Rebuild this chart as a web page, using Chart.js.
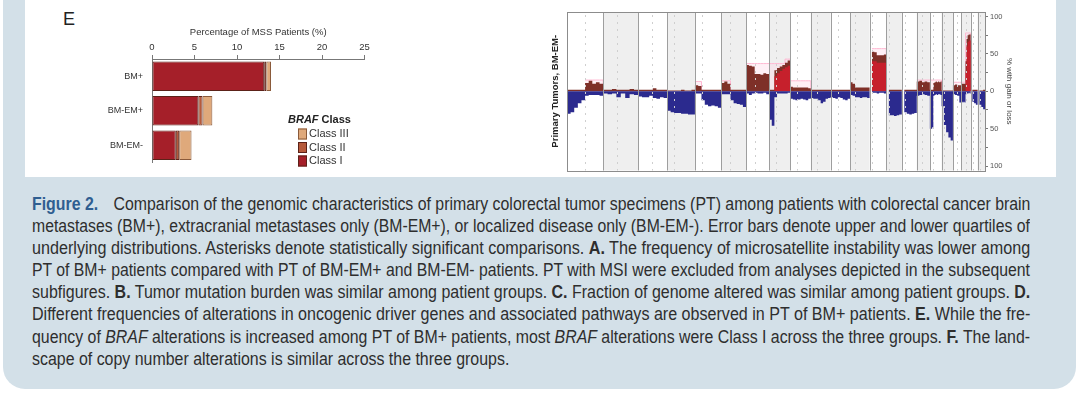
<!DOCTYPE html>
<html>
<head>
<meta charset="utf-8">
<script src="https://cdn.jsdelivr.net/npm/chart.js@4.4.1/dist/chart.umd.min.js"></script>
<style>
html, body { margin: 0; padding: 0; background: #fff; width: 1080px; height: 394px; overflow: hidden; }
#box { position: absolute; left: 3px; top: -30px; width: 1073px; height: 419px; background: #d3e0e8; border-radius: 0 0 22px 22px; }
#panel { position: absolute; left: 25px; top: 0; width: 1031px; height: 177px; background: #fff; }
#lblE { position: absolute; left: 63px; top: 9px; font: 18px "Liberation Sans", Arial, sans-serif; color: #222; }
#cBar { position: absolute; left: 0; top: 0; }
#cCn { position: absolute; left: 520px; top: 0; }
#cap { position: absolute; left: 32px; top: 193px; width: 998px; font: 17.5px "Liberation Sans", Arial, sans-serif; color: #2e2e2e; line-height: 22.1px; }
#cap div { white-space: nowrap; width: max-content; transform-origin: 0 0; }
.fig { color: #2f5e91; font-weight: bold; margin-right: 17px; }
</style>
</head>
<body>
<div id="box"></div>
<div id="panel"></div>
<div id="lblE">E</div>
<canvas id="cBar" width="420" height="177"></canvas>
<canvas id="cCn" width="536" height="177"></canvas>
<div id="cap">
<div><span class="fig">Figure 2.</span>Comparison of the genomic characteristics of primary colorectal tumor specimens (PT) among patients with colorectal cancer brain</div>
<div>metastases (BM+), extracranial metastases only (BM-EM+), or localized disease only (BM-EM-). Error bars denote upper and lower quartiles of</div>
<div>underlying distributions. Asterisks denote statistically significant comparisons. <b>A.</b> The frequency of microsatellite instability was lower among</div>
<div>PT of BM+ patients compared with PT of BM-EM+ and BM-EM- patients. PT with MSI were excluded from analyses depicted in the subsequent</div>
<div>subfigures. <b>B.</b> Tumor mutation burden was similar among patient groups. <b>C.</b> Fraction of genome altered was similar among patient groups. <b>D.</b></div>
<div>Different frequencies of alterations in oncogenic driver genes and associated pathways are observed in PT of BM+ patients. <b>E.</b> While the fre-</div>
<div>quency of <i>BRAF</i> alterations is increased among PT of BM+ patients, most <i>BRAF</i> alterations were Class I across the three groups. <b>F.</b> The land-</div>
<div class="last">scape of copy number alterations is similar across the three groups.</div>
</div>
<script>
// panel E: BRAF class by patient group (% of MSS patients)
var groups = ['BM+', 'BM-EM+', 'BM-EM-'];
var brafClassI = [13.2, 5.45, 2.8];
var brafClassII = [0.25, 0.5, 0.4];
var brafClassIII = [0.55, 1.15, 1.45];

// copy number panel, primary tumors BM-EM-
var chromosomes = ['1','2','3','4','5','6','7','8','9','10','11','12','13','14','15','16','17','18','19','20','21','22'];
var chromLengthMb = [249, 243, 198, 191, 181, 171, 159, 146, 141, 136, 135, 134, 115, 107, 103, 90, 81, 78, 59, 63, 48, 51];
var centromereMb = [125, 93, 91, 50, 48, 60, 60, 45, 49, 40, 53, 35, 18, 17, 19, 36, 24, 18, 27, 28, 13, 15];
var gainLossTicks = [-100, -75, -50, -25, 0, 25, 50, 75, 100];

// % with gain, equal bins along each chromosome
var gainPct = [
  [2, 2, 2, 2, 2, 11, 14, 10, 12, 10],
  [2, 2, 3, 2, 2, 2, 3, 2],
  [2, 2, 2, 2, 4, 2, 2, 2],
  [1, 1, 1, 1, 2, 1, 1, 2],
  [8, 7, 2, 2, 2, 2, 2, 2],
  [11, 13, 10, 2, 2, 2, 2, 2],
  [35, 34, 33, 23, 23, 22, 24, 23],
  [2, 2, 28, 31, 33, 35, 38, 41],
  [6, 5, 5, 5, 5, 5, 5, 4],
  [2, 2, 2, 2, 2, 2, 2, 2],
  [2, 2, 2, 2, 2, 2, 2, 2],
  [12, 10, 5, 5, 5, 5, 5, 5],
  [0, 53, 52, 48, 48, 48, 49],
  [0, 2, 2, 2, 2, 2],
  [0, 2, 2, 2, 2, 2],
  [13, 14, 12, 13, 12],
  [2, 2, 2, 11, 12, 13, 12, 13, 12, 13],
  [1, 1, 1, 1, 1],
  [8, 9, 8, 8],
  [10, 10, 10, 10, 40, 70, 75, 76, 76],
  [0, 2, 2, 2],
  [0, 1, 1, 2]
];
// % with high-level gain (bright red)
var highGainPct = [
  [0, 0, 0, 0, 0, 0, 0, 0, 0, 0],
  [0, 0, 0, 0, 0, 0, 0, 0],
  [0, 0, 0, 0, 0, 0, 0, 0],
  [0, 0, 0, 0, 0, 0, 0, 0],
  [0, 0, 0, 0, 0, 0, 0, 0],
  [0, 0, 0, 0, 0, 0, 0, 0],
  [0, 0, 0, 0, 0, 0, 0, 0],
  [0, 0, 20, 24, 27, 30, 32, 34],
  [0, 0, 0, 0, 0, 0, 0, 0],
  [0, 0, 0, 0, 0, 0, 0, 0],
  [0, 0, 0, 0, 0, 0, 0, 0],
  [0, 0, 0, 0, 0, 0, 0, 0],
  [0, 40, 40, 38, 38, 38, 38],
  [0, 0, 0, 0, 0, 0],
  [0, 0, 0, 0, 0, 0],
  [0, 0, 0, 0, 0],
  [0, 0, 0, 0, 0, 0, 0, 0, 0, 0],
  [0, 0, 0, 0, 0],
  [0, 0, 0, 0],
  [0, 0, 0, 0, 25, 60, 66, 68, 68],
  [0, 0, 0, 0],
  [0, 0, 0, 0]
];
// % with loss (negative)
var lossPct = [
  [-30, -28, -22, -16, -12, -6, -5, -5, -5, -6],
  [-3, -4, -3, -8, -3, -9, -4, -5],
  [-7, -8, -8, -6, -9, -10, -8, -9],
  [-26, -28, -29, -29, -30, -30, -31, -31],
  [-3, -3, -12, -18, -20, -19, -20, -22],
  [-4, -4, -4, -12, -16, -17, -18, -21],
  [-3, -5, -3, -2, -3, -3, -2, -4],
  [-38, -46, -8, -3, -3, -3, -3, -2],
  [-10, -11, -12, -11, -10, -11, -12, -10],
  [-9, -10, -10, -12, -16, -14, -10, -9],
  [-8, -9, -10, -8, -9, -11, -12, -10],
  [-5, -6, -8, -8, -9, -8, -8, -9],
  [0, -2, -2, -3, -2, -2, -3],
  [0, -32, -32, -33, -32, -31],
  [0, -28, -30, -31, -30, -29],
  [-6, -5, -4, -5, -6],
  [-50, -50, -48, -6, -5, -4, -5, -4, -4, -5],
  [-20, -45, -55, -62, -66],
  [-4, -5, -6, -15],
  [-14, -15, -14, -15, -4, -3, -3, -2, -3],
  [0, -14, -16, -18],
  [0, -18, -21, -24]
];
// highlighted (pink) gain regions
var highlightPct = [
  [0, 0, 0, 0, 0, 15, 15, 15, 15, 15],
  [0, 0, 0, 0, 0, 0, 0, 0],
  [0, 0, 0, 0, 0, 0, 0, 0],
  [0, 0, 0, 0, 0, 0, 0, 0],
  [13, 13, 0, 0, 0, 0, 0, 0],
  [14, 14, 14, 0, 0, 0, 0, 0],
  [37, 37, 37, 37, 37, 37, 37, 37],
  [37, 37, 37, 37, 37, 37, 43, 43],
  [14, 14, 14, 14, 14, 14, 14, 14],
  [0, 0, 0, 0, 0, 0, 0, 0],
  [0, 0, 0, 0, 0, 0, 0, 0],
  [0, 0, 0, 0, 0, 0, 0, 0],
  [0, 57, 57, 57, 57, 57, 57],
  [0, 0, 0, 0, 0, 0],
  [0, 0, 0, 0, 0, 0],
  [15, 15, 15, 15, 15],
  [15, 15, 15, 15, 15, 15, 15, 15, 15, 15],
  [0, 0, 0, 0, 0],
  [12, 12, 12, 12],
  [12, 12, 12, 12, 78, 78, 78, 78, 78],
  [0, 0, 0, 0],
  [0, 0, 0, 0]
];

Chart.defaults.font.family = '"Liberation Sans", Arial, sans-serif';
Chart.defaults.color = '#333';

/** legend with mixed italic title, drawn inside the chart area */
var brafLegend = {
  id: 'brafLegend',
  afterDraw: function(chart) {
    var ctx = chart.ctx;
    var x0 = chart.scales.x.getPixelForValue(16);
    var y0 = chart.chartArea.top + 61;
    ctx.save();
    ctx.textBaseline = 'middle';
    ctx.fillStyle = '#222';
    ctx.font = 'italic bold 11px "Liberation Sans", Arial, sans-serif';
    ctx.fillText('BRAF', x0, y0);
    var w = ctx.measureText('BRAF').width;
    ctx.font = 'bold 11px "Liberation Sans", Arial, sans-serif';
    ctx.fillText(' Class', x0 + w, y0);
    var ds = chart.data.datasets.slice().reverse();
    ctx.font = '11px "Liberation Sans", Arial, sans-serif';
    ds.forEach(function(d, i) {
      var y = y0 + 14 + i * 13.5;
      ctx.fillStyle = d.backgroundColor;
      ctx.fillRect(x0 + 10, y - 5.5, 9, 11);
      ctx.strokeStyle = d.borderColor;
      ctx.lineWidth = 1;
      ctx.strokeRect(x0 + 10.5, y - 5, 8, 10);
      ctx.fillStyle = '#333';
      ctx.fillText(d.label, x0 + 21, y);
    });
    ctx.restore();
  }
};

new Chart(document.getElementById('cBar').getContext('2d'), {
  type: 'bar',
  data: {
    labels: groups,
    datasets: [
      { label: 'Class I', data: brafClassI, backgroundColor: '#a51f29', borderColor: '#5c2219' },
      { label: 'Class II', data: brafClassII, backgroundColor: '#b65a3b', borderColor: '#5c2219' },
      { label: 'Class III', data: brafClassIII, backgroundColor: '#dfa97b', borderColor: '#8a5a3a' }
    ]
  },
  options: {
    indexAxis: 'y',
    responsive: false,
    animation: false,
    layout: { padding: { left: 0, right: 55.5, top: 24, bottom: 12 } },
    datasets: { bar: { borderWidth: 1, borderSkipped: false, categoryPercentage: 0.88, barPercentage: 0.97 } },
    plugins: { legend: { display: false }, tooltip: { enabled: false } },
    scales: {
      x: {
        type: 'linear', position: 'top', stacked: true, min: 0, max: 25,
        ticks: { stepSize: 5, font: { size: 9.5 }, color: '#333', padding: 2 },
        grid: { drawOnChartArea: false, tickLength: 4, color: '#777' },
        border: { color: '#777' },
        title: { display: true, text: 'Percentage of MSS Patients (%)', font: { size: 9.5 }, color: '#333', padding: { top: 3, bottom: 2 } },
        afterFit: function(s) { s.height = 35; }
      },
      y: {
        stacked: true,
        ticks: { font: { size: 9 }, color: '#333', padding: 9 },
        grid: { display: false, drawTicks: false },
        border: { color: '#777' },
        afterFit: function(s) { s.width = 152; }
      }
    }
  },
  plugins: [brafLegend]
});

// genome step profile from per-chromosome bins
function profile(values) {
  var pts = [];
  var start = 0;
  chromLengthMb.forEach(function(len, i) {
    var bins = values[i];
    bins.forEach(function(v, j) { pts.push({ x: start + len * j / bins.length, y: v }); });
    start += len;
  });
  var last = values[values.length - 1];
  pts.push({ x: start, y: last[last.length - 1] });
  return pts;
}

var genomeMb = chromLengthMb.reduce(function(a, b) { return a + b; }, 0);

/** chromosome shading, centromere dashes, boundaries and frame */
var genomeGrid = {
  id: 'genomeGrid',
  beforeDatasetsDraw: function(chart) {
    var ctx = chart.ctx, a = chart.chartArea, x = chart.scales.x;
    ctx.save();
    var s = 0;
    chromLengthMb.forEach(function(len, i) {
      if (i % 2 === 1) {
        var x1 = x.getPixelForValue(s), x2 = x.getPixelForValue(s + len);
        ctx.fillStyle = '#efefef';
        ctx.fillRect(x1, a.top, x2 - x1, a.bottom - a.top);
      }
      s += len;
    });
    ctx.restore();
  },
  afterDatasetsDraw: function(chart) {
    var ctx = chart.ctx, a = chart.chartArea, x = chart.scales.x;
    ctx.save();
    ctx.lineWidth = 1;
    var s = 0;
    chromLengthMb.forEach(function(len, i) {
      var xc = Math.round(x.getPixelForValue(s + centromereMb[i])) + 0.5;
      ctx.strokeStyle = '#cfcfcf';
      ctx.setLineDash([2, 5]);
      ctx.beginPath(); ctx.moveTo(xc, a.top + 3); ctx.lineTo(xc, a.bottom); ctx.stroke();
      s += len;
      if (i < chromLengthMb.length - 1) {
        var xb = Math.round(x.getPixelForValue(s)) + 0.5;
        ctx.setLineDash([]);
        ctx.strokeStyle = '#9e9e9e';
        ctx.beginPath(); ctx.moveTo(xb, a.top); ctx.lineTo(xb, a.bottom); ctx.stroke();
      }
    });
    ctx.setLineDash([]);
    ctx.strokeStyle = '#8c8c8c';
    ctx.strokeRect(Math.round(a.left) + 0.5, Math.round(a.top) + 0.5, Math.round(a.right - a.left), Math.round(a.bottom - a.top));
    ctx.restore();
  }
};

var stepLine = { stepped: true, pointRadius: 0, borderWidth: 0, fill: 'origin' };

new Chart(document.getElementById('cCn').getContext('2d'), {
  type: 'line',
  data: {
    datasets: [
      Object.assign({ label: 'highlight', data: profile(highlightPct), order: 4, backgroundColor: 'rgba(255,205,225,0.3)', borderColor: '#ffb8d2', borderWidth: 1,
        segment: { borderColor: function(c) { return c.p0.parsed.y === 0 ? 'rgba(0,0,0,0)' : undefined; } } }, { stepped: true, pointRadius: 0, fill: 'origin' }),
      Object.assign({ label: 'gain', data: profile(gainPct), order: 3, backgroundColor: '#7e3028', borderColor: '#7e3028' }, stepLine),
      Object.assign({ label: 'high gain', data: profile(highGainPct), order: 2, backgroundColor: '#c6202c', borderColor: '#c6202c' }, stepLine),
      Object.assign({ label: 'loss', data: profile(lossPct), order: 1, backgroundColor: '#2b2a8e', borderColor: '#2b2a8e' }, stepLine)
    ]
  },
  options: {
    responsive: false,
    animation: false,
    layout: { padding: { left: 26, right: 38, top: 12, bottom: 5 } },
    plugins: { legend: { display: false }, tooltip: { enabled: false } },
    scales: {
      x: { type: 'linear', min: 0, max: genomeMb, display: false },
      y: {
        position: 'right', min: -106, max: 106,
        afterBuildTicks: function(s) { s.ticks = gainLossTicks.map(function(v) { return { value: v }; }); },
        ticks: { font: { size: 7.5 }, color: '#555', padding: 2, callback: function(v) { return v % 50 === 0 ? Math.abs(v) : ''; } },
        grid: { drawOnChartArea: false, tickLength: 3, color: '#777' },
        border: { display: false },
        title: { display: true, text: '% with gain or loss', font: { size: 8 }, color: '#444', padding: { top: 4, bottom: 4 } },
        afterFit: function(s) { s.width = 33; }
      },
      yL: {
        type: 'linear', position: 'left',
        ticks: { display: false },
        grid: { display: false, drawTicks: false },
        border: { display: false },
        title: { display: true, text: 'Primary Tumors, BM-EM-', font: { size: 9.5, weight: 'bold' }, color: '#222', padding: { top: 4, bottom: 4 } },
        afterFit: function(s) { s.width = 21; }
      }
    }
  },
  plugins: [genomeGrid]
});

// squeeze each caption line to the justified column width (condensed look)
function fitCaption() {
  var lines = document.querySelectorAll('#cap div');
  var target = 998, sum = 0, n = 0;
  lines.forEach(function(l) {
    l.style.transform = '';
    if (l.className === 'last') return;
    var k = target / l.offsetWidth;
    l.style.transform = 'scaleX(' + k + ')';
    sum += k; n++;
  });
  lines.forEach(function(l) {
    if (l.className === 'last') l.style.transform = 'scaleX(' + (sum / n) + ')';
  });
}
fitCaption();
if (document.fonts && document.fonts.ready) document.fonts.ready.then(fitCaption);
</script>
</body>
</html>
